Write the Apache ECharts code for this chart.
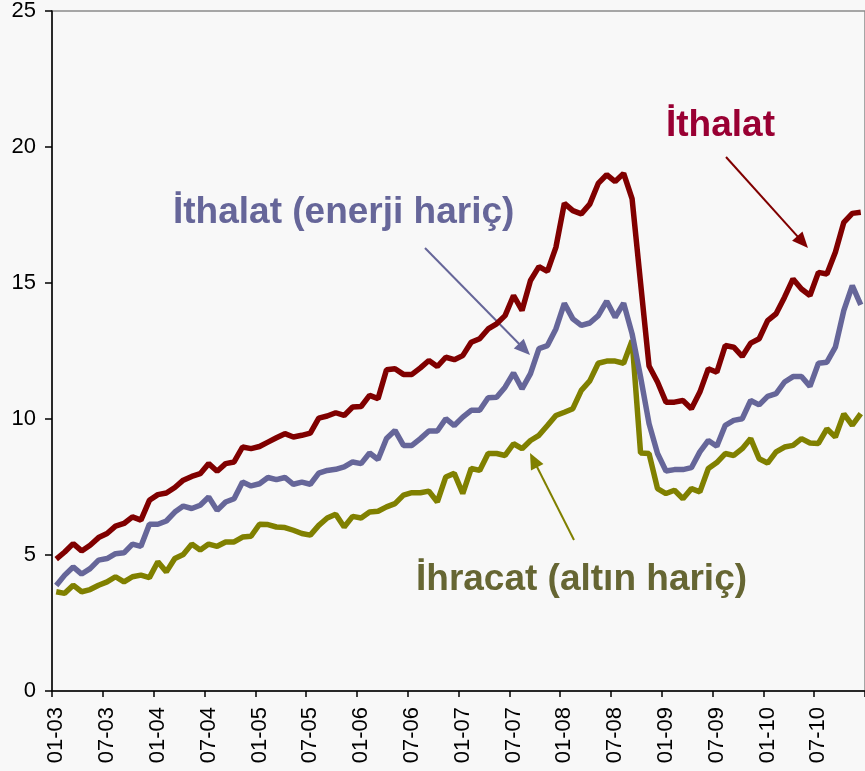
<!DOCTYPE html>
<html><head><meta charset="utf-8">
<script src="https://cdn.jsdelivr.net/npm/echarts@6/dist/echarts.min.js"></script>
<style>html,body{margin:0;padding:0;background:#f8f8f8}#c{width:865px;height:771px}</style>
</head><body><div id="c"></div>
<script>
const years = ['03','04','05','06','07','08','09','10'];
const months = ['01','02','03','04','05','06','07','08','09','10','11','12'];
const categories = years.flatMap(y => months.map(m => m + '-' + y));
const yTicks = [0, 5, 10, 15, 20, 25];

const ithalat = [4.85,5.11,5.42,5.15,5.36,5.64,5.79,6.06,6.16,6.40,6.28,7.01,
  7.22,7.28,7.48,7.75,7.89,7.99,8.36,8.08,8.36,8.42,8.97,8.91,
  8.99,9.15,9.31,9.46,9.34,9.40,9.48,10.03,10.11,10.23,10.13,10.44,
  10.46,10.87,10.75,11.81,11.85,11.64,11.64,11.88,12.15,11.93,12.27,12.18,
  12.33,12.82,12.95,13.31,13.50,13.80,14.54,13.99,15.09,15.60,15.43,16.31,
  17.93,17.66,17.54,17.90,18.66,18.98,18.73,19.03,18.09,15.00,11.95,11.36,
  10.62,10.62,10.68,10.38,10.99,11.85,11.72,12.70,12.64,12.30,12.79,12.95,
  13.62,13.87,14.48,15.15,14.78,14.54,15.39,15.33,16.13,17.23,17.56,17.60];

const ithalatEnerjiHaric = [3.88,4.26,4.56,4.30,4.50,4.81,4.87,5.05,5.08,5.40,5.32,6.13,
  6.13,6.25,6.58,6.80,6.71,6.83,7.13,6.64,6.95,7.07,7.68,7.54,
  7.62,7.85,7.77,7.85,7.60,7.68,7.60,8.01,8.11,8.15,8.24,8.42,
  8.36,8.75,8.51,9.28,9.58,9.03,9.03,9.28,9.56,9.56,10.01,9.76,
  10.07,10.32,10.32,10.78,10.80,11.17,11.69,11.11,11.67,12.59,12.70,13.31,
  14.25,13.68,13.44,13.53,13.80,14.33,13.74,14.26,13.13,11.54,9.83,8.73,
  8.09,8.14,8.14,8.21,8.79,9.21,9.00,9.77,9.95,10.01,10.68,10.52,
  10.83,10.93,11.36,11.56,11.56,11.20,12.05,12.09,12.64,13.99,14.90,14.20];

const ihracatAltinHaric = [3.65,3.59,3.89,3.65,3.73,3.89,4.01,4.20,4.01,4.20,4.26,4.17,
  4.75,4.38,4.87,5.02,5.40,5.18,5.40,5.32,5.48,5.48,5.66,5.69,
  6.13,6.12,6.03,6.01,5.91,5.79,5.73,6.09,6.36,6.50,6.03,6.42,
  6.36,6.58,6.61,6.77,6.89,7.20,7.29,7.29,7.35,6.95,7.87,8.00,
  7.26,8.18,8.11,8.73,8.73,8.66,9.09,8.91,9.21,9.40,9.76,10.13,
  10.25,10.38,11.05,11.40,12.05,12.13,12.13,12.05,12.89,8.75,8.73,7.44,
  7.26,7.38,7.07,7.44,7.32,8.18,8.40,8.73,8.66,8.91,9.28,8.54,
  8.38,8.79,8.97,9.03,9.28,9.12,9.10,9.64,9.34,10.19,9.77,10.20];

const FONT = '"Liberation Sans", Arial, sans-serif';

function arrow(x1, y1, x2, y2, color) {
  const dx = x2 - x1, dy = y2 - y1, len = Math.hypot(dx, dy);
  const ux = dx / len, uy = dy / len, px = -uy, py = ux;
  const L = 16, W = 7;
  const bx = x2 - ux * L, by = y2 - uy * L;
  return [
    { type: 'line', silent: true, shape: { x1: x1, y1: y1, x2: bx + ux * 2, y2: by + uy * 2 },
      style: { stroke: color, lineWidth: 2 } },
    { type: 'polygon', silent: true,
      shape: { points: [[x2, y2], [bx + px * W, by + py * W], [bx - px * W, by - py * W]] },
      style: { fill: color } }
  ];
}

const chart = echarts.init(document.getElementById('c'), null, { renderer: 'canvas' });
chart.setOption({
  backgroundColor: '#f8f8f8',
  animation: false,
  grid: { left: 52, top: 10, width: 96 * 8.5333, height: 681, show: true,
          borderColor: '#8a8a8a', borderWidth: 1.5, backgroundColor: 'transparent' },
  xAxis: {
    type: 'category', data: categories, boundaryGap: true,
    axisLine: { lineStyle: { color: '#000', width: 1.5 } },
    axisTick: { show: true, interval: 5, length: 6, lineStyle: { color: '#000', width: 1.5 } },
    axisLabel: { interval: 5, rotate: 90, fontSize: 22, color: '#000', fontFamily: FONT, margin: 16 },
    splitLine: { show: false }
  },
  yAxis: {
    type: 'value', min: yTicks[0], max: yTicks[yTicks.length - 1], interval: 5,
    axisLine: { show: true, lineStyle: { color: '#000', width: 1.5 } },
    axisTick: { show: true, length: 7, lineStyle: { color: '#000', width: 1.5 } },
    axisLabel: { fontSize: 22, color: '#000', fontFamily: FONT, margin: 16 },
    splitLine: { show: false }
  },
  series: [
    { name: 'İhracat (altın hariç)', type: 'line', data: ihracatAltinHaric, symbol: 'none',
      lineStyle: { color: '#808000', width: 5.5 } },
    { name: 'İthalat (enerji hariç)', type: 'line', data: ithalatEnerjiHaric, symbol: 'none',
      lineStyle: { color: '#666699', width: 5.5 } },
    { name: 'İthalat', type: 'line', data: ithalat, symbol: 'none',
      lineStyle: { color: '#800000', width: 5.5 } }
  ],
  graphic: [
    { type: 'text', silent: true, style: { text: 'İthalat (enerji hariç)', x: 173, y: 213,
      fill: '#666699', font: 'bold 37px ' + FONT, align: 'left', verticalAlign: 'middle' } },
    { type: 'text', silent: true, style: { text: 'İthalat', x: 666, y: 126,
      fill: '#990033', font: 'bold 37px ' + FONT, align: 'left', verticalAlign: 'middle' } },
    { type: 'text', silent: true, style: { text: 'İhracat (altın hariç)', x: 416, y: 580,
      fill: '#666633', font: 'bold 37px ' + FONT, align: 'left', verticalAlign: 'middle' } },
    ...arrow(425, 248, 530, 355, '#666699'),
    ...arrow(726, 157, 808, 248, '#800000'),
    ...arrow(574, 540, 530, 453, '#808000')
  ]
});
</script>
</body></html>
